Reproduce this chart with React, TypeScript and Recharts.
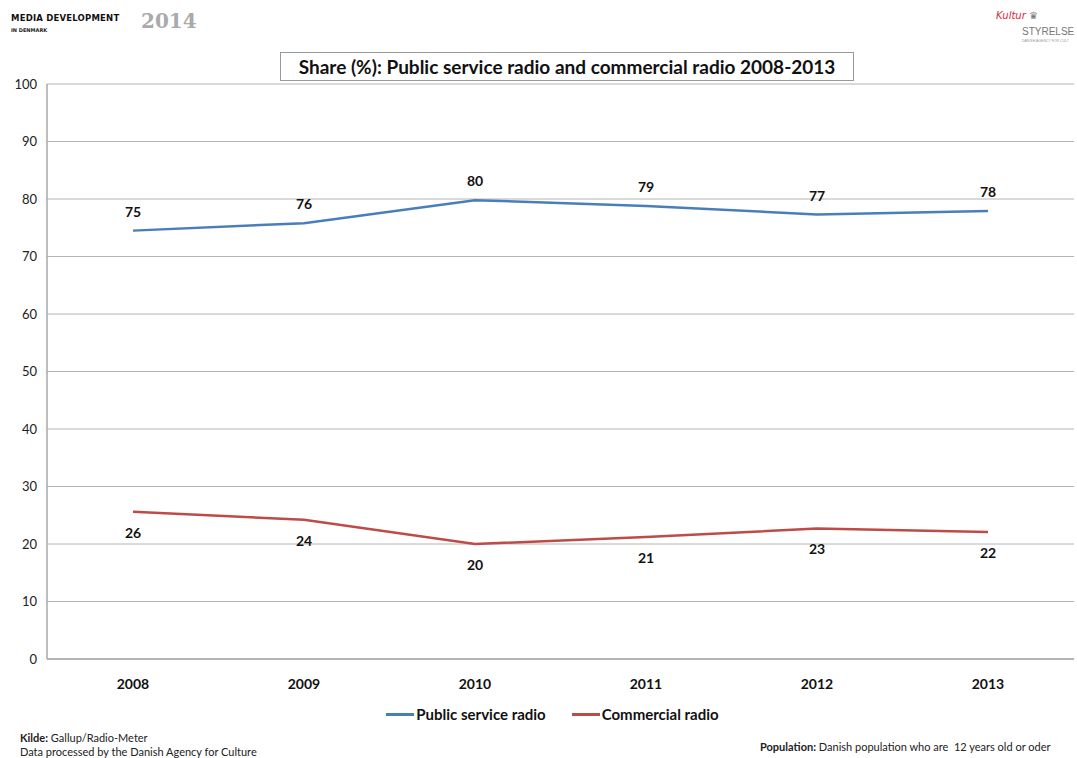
import React from 'react';
import { LineChart, Line, XAxis, YAxis, CartesianGrid, Legend, LabelList } from 'recharts';

const years = ['2008', '2009', '2010', '2011', '2012', '2013'];
const publicService = [74.5, 75.8, 79.8, 78.8, 77.3, 77.9];
const commercial = [25.6, 24.2, 20.0, 21.2, 22.7, 22.1];
const yTicks = [0, 10, 20, 30, 40, 50, 60, 70, 80, 90, 100];

const data = years.map((year, i) => ({
  year,
  publicService: publicService[i],
  commercial: commercial[i],
}));

const FONT = 'Lato, "Open Sans", sans-serif';
const BLUE = '#4a7ebb';
const RED = '#be4b48';

const legendItems = [
  { label: 'Public service radio', color: BLUE },
  { label: 'Commercial radio', color: RED },
];

function ChartLegend() {
  return (
    <div style={{ display: 'flex', justifyContent: 'center', gap: 26, fontFamily: FONT, fontWeight: 700, fontSize: 15, color: '#111', paddingLeft: 28 }}>
      {legendItems.map((item) => (
        <div key={item.label} style={{ display: 'flex', alignItems: 'center' }}>
          <span style={{ display: 'inline-block', width: 28, height: 3, background: item.color, marginRight: 2 }} />
          {item.label}
        </div>
      ))}
    </div>
  );
}

export default function App() {
  return (
    <div style={{ position: 'absolute', left: 0, top: 0, width: 1077, height: 758, background: '#fff', fontFamily: FONT, overflow: 'hidden' }}>
      <div style={{ position: 'absolute', left: 11, top: 13, fontSize: 8.5, fontWeight: 900, letterSpacing: 0.2, color: '#111', fontFamily: '"DejaVu Sans", sans-serif' }}>
        MEDIA DEVELOPMENT
      </div>
      <div style={{ position: 'absolute', left: 11, top: 27, fontSize: 5, fontWeight: 900, color: '#222', fontFamily: '"DejaVu Sans", sans-serif' }}>
        IN DENMARK
      </div>
      <div style={{ position: 'absolute', left: 141, top: 9, fontSize: 20, fontWeight: 700, color: '#aaa', fontFamily: '"DejaVu Serif", serif' }}>
        2014
      </div>
      <div style={{ position: 'absolute', left: 996, top: 10, fontSize: 10, fontStyle: 'italic', color: '#d9263a', fontFamily: '"DejaVu Sans", sans-serif' }}>
        Kultur <span style={{ color: '#777' }}>♛</span>
      </div>
      <div style={{ position: 'absolute', left: 1022, top: 26, fontSize: 10, color: '#777', fontFamily: '"Liberation Sans", sans-serif' }}>
        STYRELSE
      </div>
      <div style={{ position: 'absolute', left: 1022, top: 39, fontSize: 3.5, color: '#999', fontFamily: '"Liberation Sans", sans-serif', whiteSpace: 'nowrap' }}>
        DANISH AGENCY FOR CULT
      </div>

      <LineChart
        width={1077}
        height={758}
        data={data}
        margin={{ top: 84, right: 3, bottom: 69, left: 7 }}
      >
        <CartesianGrid horizontal vertical={false} stroke="#b4b4b4" strokeWidth={1} />
        <XAxis
          dataKey="year"
          padding={{ left: 86, right: 86 }}
          axisLine={{ stroke: '#a8a8a8', strokeWidth: 1.5 }}
          tickLine={false}
          tickMargin={14}
          height={30}
          tick={{ fill: '#111', fontSize: 14, fontWeight: 700, fontFamily: FONT }}
        />
        <YAxis
          domain={[0, 100]}
          ticks={yTicks}
          width={40}
          axisLine={{ stroke: '#a8a8a8', strokeWidth: 1.5 }}
          tickLine={false}
          tickSize={0}
          tickMargin={10}
          tick={{ fill: '#222', fontSize: 13, fontFamily: FONT }}
        />
        <Legend
          verticalAlign="middle"
          layout="horizontal"
          content={() => <ChartLegend />}
          wrapperStyle={{ position: 'absolute', top: 705, left: 0, width: 1077 }}
        />
        <Line
          dataKey="publicService"
          name="Public service radio"
          stroke={BLUE}
          strokeWidth={2.5}
          dot={false}
          isAnimationActive={false}
        >
          <LabelList
            dataKey="publicService"
            position="top"
            offset={14}
            formatter={(v: any) => Math.round(Number(v))}
            style={{ fill: '#111', fontSize: 14, fontWeight: 700, fontFamily: FONT }}
          />
        </Line>
        <Line
          dataKey="commercial"
          name="Commercial radio"
          stroke={RED}
          strokeWidth={2.5}
          dot={false}
          isAnimationActive={false}
        >
          <LabelList
            dataKey="commercial"
            position="bottom"
            offset={16}
            formatter={(v: any) => Math.round(Number(v))}
            style={{ fill: '#111', fontSize: 14, fontWeight: 700, fontFamily: FONT }}
          />
        </Line>
      </LineChart>

      <div
        style={{
          position: 'absolute',
          left: 280,
          top: 52,
          width: 574,
          height: 29,
          border: '1px solid #999',
          background: '#fff',
          boxSizing: 'border-box',
          display: 'flex',
          alignItems: 'center',
          justifyContent: 'center',
          fontSize: 19,
          fontWeight: 700,
          color: '#111',
          whiteSpace: 'nowrap',
        }}
      >
        Share (%): Public service radio and commercial radio 2008-2013
      </div>

      <div style={{ position: 'absolute', left: 20, top: 731, fontSize: 11, color: '#222', lineHeight: '14px' }}>
        <div><b>Kilde:</b> Gallup/Radio-Meter</div>
        <div>Data processed by the Danish Agency for Culture</div>
      </div>
      <div style={{ position: 'absolute', left: 760, top: 740, fontSize: 11, color: '#222', whiteSpace: 'pre' }}>
        <b>Population:</b> Danish population who are  12 years old or oder
      </div>
    </div>
  );
}
